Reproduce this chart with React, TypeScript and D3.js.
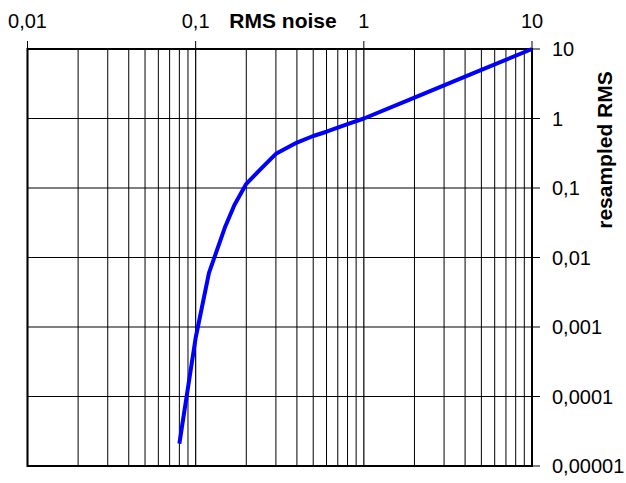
import React from "react";
import * as d3 from "d3";

const xTickValues = [0.01, 0.1, 1, 10];
const xTickLabels = ["0,01", "0,1", "1", "10"];
const yTickValues = [10, 1, 0.1, 0.01, 0.001, 0.0001, 0.00001];
const yTickLabels = ["10", "1", "0,1", "0,01", "0,001", "0,0001", "0,00001"];
const noiseX = [0.08, 0.1, 0.12, 0.15, 0.17, 0.2, 0.25, 0.3, 0.4, 0.5, 0.6, 0.8, 1, 2, 5, 10];
const resampledY = [0.000021, 0.0007, 0.006, 0.028, 0.057, 0.115, 0.2, 0.31, 0.45, 0.56, 0.645, 0.83, 1.0, 2, 5, 10];
const xTitle = "RMS noise";
const yTitle = "resampled RMS";

const W = 626;
const H = 483;
const left = 27.5;
const right = 532;
const top = 49;
const bottom = 466;
const font = "'Liberation Sans', Arial, sans-serif";

export default function App() {
  const x = d3.scaleLog().domain([0.01, 10]).range([left, right]);
  const y = d3.scaleLog().domain([0.00001, 10]).range([bottom, top]);

  const minor: number[] = [];
  for (let d = 0.01; d < 9; d *= 10) {
    for (let k = 2; k <= 9; k++) minor.push(d * k);
  }

  const pts = noiseX.map((v, i) => [x(v), y(resampledY[i])] as [number, number]);
  const line = d3.line();

  return (
    <svg width={W} height={H} style={{ position: "absolute", left: 0, top: 0, background: "#fff" }}>
      <rect x={0} y={0} width={W} height={H} fill="#fff" />
      {minor.map((v, i) => (
        <line key={"m" + i} x1={x(v)} x2={x(v)} y1={top} y2={bottom} stroke="#000" strokeWidth={1} />
      ))}
      {xTickValues.map((v, i) => (
        <line key={"vx" + i} x1={x(v)} x2={x(v)} y1={top} y2={bottom} stroke="#000" strokeWidth={1.2} />
      ))}
      {yTickValues.map((v, i) => (
        <line key={"hy" + i} x1={left} x2={right} y1={y(v)} y2={y(v)} stroke="#000" strokeWidth={1.2} />
      ))}
      <rect x={left} y={top} width={right - left} height={bottom - top} fill="none" stroke="#000" strokeWidth={2} />
      {xTickValues.map((v, i) => (
        <g key={"xt" + i}>
          <line x1={x(v)} x2={x(v)} y1={top - 8} y2={top} stroke="#000" strokeWidth={1} />
          <text x={x(v)} y={28} textAnchor="middle" fontFamily={font} fontSize={20} fill="#000">
            {xTickLabels[i]}
          </text>
        </g>
      ))}
      {yTickValues.map((v, i) => (
        <g key={"yt" + i}>
          <line x1={right} x2={right + 8} y1={y(v)} y2={y(v)} stroke="#000" strokeWidth={1} />
          <text x={552} y={y(v) + 7} textAnchor="start" fontFamily={font} fontSize={20} fill="#000">
            {yTickLabels[i]}
          </text>
        </g>
      ))}
      <text x={283} y={28} textAnchor="middle" fontFamily={font} fontSize={21} fontWeight="bold" fill="#000">
        {xTitle}
      </text>
      <text
        transform={`translate(612,150) rotate(-90)`}
        textAnchor="middle"
        fontFamily={font}
        fontSize={21}
        fontWeight="bold"
        fill="#000"
      >
        {yTitle}
      </text>
      <path d={line(pts) || ""} fill="none" stroke="#0000ff" strokeWidth={4} strokeLinejoin="round" />
    </svg>
  );
}
